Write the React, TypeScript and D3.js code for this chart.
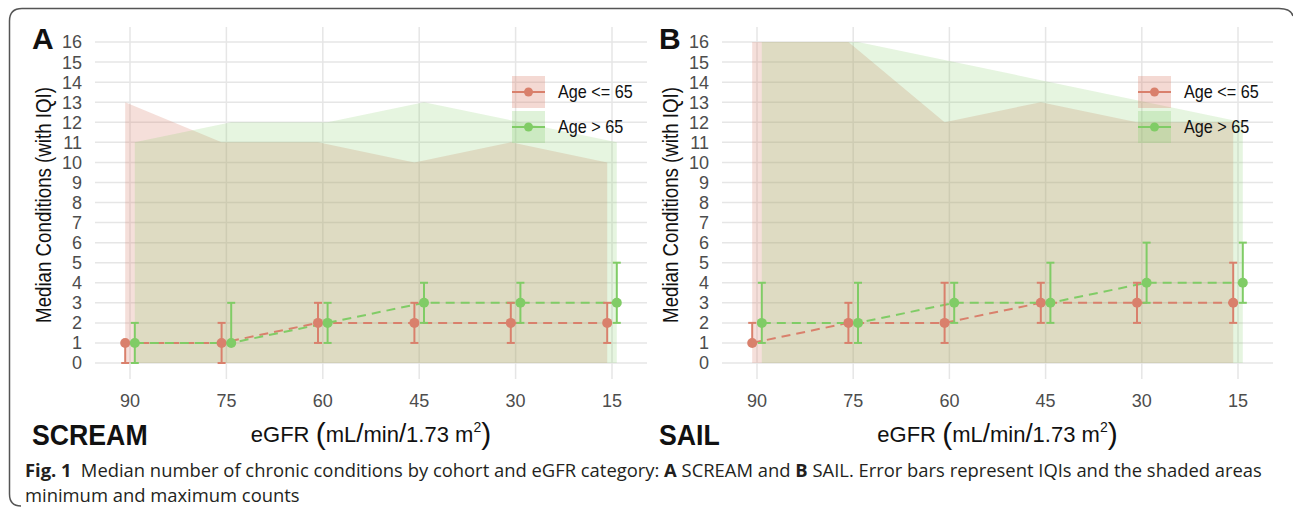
import React from "react";
import * as d3 from "d3";

// eGFR categories (x axis)
const egfr = [90, 75, 60, 45, 30, 15];
const yTicks = d3.range(0, 17);

// SCREAM cohort
const screamYoungMedian = [1, 1, 2, 2, 2, 2];
const screamYoungQ1 = [0, 0, 1, 1, 1, 1];
const screamYoungQ3 = [1, 2, 3, 3, 3, 3];
const screamYoungMin = [0, 0, 0, 0, 0, 0];
const screamYoungMax = [13, 11, 11, 10, 11, 10];

const screamOldMedian = [1, 1, 2, 3, 3, 3];
const screamOldQ1 = [0, 1, 1, 2, 2, 2];
const screamOldQ3 = [2, 3, 3, 4, 4, 5];
const screamOldMin = [0, 0, 0, 0, 0, 0];
const screamOldMax = [11, 12, 12, 13, 12, 11];

// SAIL cohort
const sailYoungMedian = [1, 2, 2, 3, 3, 3];
const sailYoungQ1 = [1, 1, 1, 2, 2, 2];
const sailYoungQ3 = [2, 3, 4, 4, 4, 5];
const sailYoungMin = [0, 0, 0, 0, 0, 0];
const sailYoungMax = [16, 16, 12, 13, 12, 12];

const sailOldMedian = [2, 2, 3, 3, 4, 4];
const sailOldQ1 = [1, 1, 2, 2, 3, 3];
const sailOldQ3 = [4, 4, 4, 5, 6, 6];
const sailOldMin = [0, 0, 0, 0, 0, 0];
const sailOldMax = [16, 16, 15, 14, 13, 12];

const groups = ["Age <= 65", "Age > 65"];
const colors = ["#d9806c", "#80cc66"];
const fillAlpha = [0.25, 0.2];

const chartFont = "'Liberation Sans', Arial, sans-serif";
const captionFont = "'Open Sans', sans-serif";

type Series = { median: number[]; q1: number[]; q3: number[]; min: number[]; max: number[] };

const build = (median, q1, q3, min, max): Series => ({ median, q1, q3, min, max });

const panels = [
  {
    letter: "A",
    cohort: "SCREAM",
    left: 95,
    right: 647,
    x0: 130,
    x1: 612,
    series: [
      build(screamYoungMedian, screamYoungQ1, screamYoungQ3, screamYoungMin, screamYoungMax),
      build(screamOldMedian, screamOldQ1, screamOldQ3, screamOldMin, screamOldMax),
    ],
  },
  {
    letter: "B",
    cohort: "SAIL",
    left: 722,
    right: 1273,
    x0: 757,
    x1: 1238,
    series: [
      build(sailYoungMedian, sailYoungQ1, sailYoungQ3, sailYoungMin, sailYoungMax),
      build(sailOldMedian, sailOldQ1, sailOldQ3, sailOldMin, sailOldMax),
    ],
  },
];

const top = 27;
const bottom = 379;
const y = d3.scaleLinear().domain([0, 16]).range([363, 42]);
const dodgePx = [-4.8, 4.8]; // red left, green right

const Panel = ({ p }) => {
  const x = d3.scaleLinear().domain([90, 15]).range([p.x0, p.x1]);
  const mid = (p.left + p.right) / 2;

  return (
    <g>
      {/* grid */}
      {yTicks.map((t) => (
        <line key={"h" + t} x1={p.left} x2={p.right} y1={y(t)} y2={y(t)} stroke="#e6e6e6" strokeWidth={1.5} />
      ))}
      {egfr.map((e) => (
        <line key={"v" + e} x1={x(e)} x2={x(e)} y1={top} y2={bottom} stroke="#e6e6e6" strokeWidth={1.5} />
      ))}

      {/* min-max shaded areas */}
      {p.series.map((s, gi) => {
        const area = d3
          .area<number>()
          .x((e) => x(e) + dodgePx[gi])
          .y0((e, i) => y(s.min[i]))
          .y1((e, i) => y(s.max[i]));
        return <path key={"a" + gi} d={area(egfr)} fill={colors[gi]} fillOpacity={fillAlpha[gi]} />;
      })}

      {/* dashed median lines */}
      {p.series.map((s, gi) => {
        const line = d3
          .line<number>()
          .x((e) => x(e) + dodgePx[gi])
          .y((e, i) => y(s.median[i]));
        return (
          <path key={"l" + gi} d={line(egfr)} fill="none" stroke={colors[gi]} strokeWidth={2} strokeDasharray="9,6" />
        );
      })}

      {/* error bars + points */}
      {p.series.map((s, gi) => (
        <g key={"e" + gi} stroke={colors[gi]} strokeWidth={2}>
          {egfr.map((e, i) => {
            const cx = x(e) + dodgePx[gi];
            return (
              <g key={e}>
                <line x1={cx} x2={cx} y1={y(s.q1[i])} y2={y(s.q3[i])} />
                <line x1={cx - 4} x2={cx + 4} y1={y(s.q1[i])} y2={y(s.q1[i])} />
                <line x1={cx - 4} x2={cx + 4} y1={y(s.q3[i])} y2={y(s.q3[i])} />
                <circle cx={cx} cy={y(s.median[i])} r={5} fill={colors[gi]} stroke="none" />
              </g>
            );
          })}
        </g>
      ))}

      {/* y ticks */}
      {yTicks.map((t) => (
        <text key={"yt" + t} x={p.left - 13} y={y(t)} dy="0.36em" textAnchor="end" fontSize={18} fill="#4d4d4d" fontFamily={chartFont}>
          {t}
        </text>
      ))}
      {/* x ticks */}
      {egfr.map((e) => (
        <text key={"xt" + e} x={x(e)} y={407} textAnchor="middle" fontSize={18} fill="#4d4d4d" fontFamily={chartFont}>
          {e}
        </text>
      ))}

      {/* axis titles */}
      <text
        transform={`translate(${p.left - 44},${(top + bottom) / 2 + 2}) rotate(-90) scale(0.85,1)`}
        textAnchor="middle"
        fontSize={22}
        fill="#111"
        fontFamily={chartFont}
      >
        Median Conditions (with IQI)
      </text>
      <text x={mid} y={442} textAnchor="middle" fontSize={22} fill="#111" fontFamily={chartFont}>
        eGFR <tspan fontSize={30} dy={2}>(</tspan>
        <tspan dy={-2}>mL</tspan>
        <tspan fontSize={26}>/</tspan>min<tspan fontSize={26}>/</tspan>1.73 m
        <tspan fontSize={14} dy={-10}>2</tspan>
        <tspan fontSize={30} dy={12}>)</tspan>
      </text>

      {/* panel tag and cohort */}
      <text x={p.left - 63} y={49} fontSize={30} fontWeight="bold" fill="#111" fontFamily={chartFont}>
        {p.letter}
      </text>
      <text
        transform={`translate(${p.left - 63},445) scale(0.89,1)`}
        fontSize={30}
        fontWeight="bold"
        fill="#111"
        fontFamily={chartFont}
      >
        {p.cohort}
      </text>

      {/* legend */}
      {groups.map((g, gi) => {
        const lx = p.right - 135;
        const ly = 76 + gi * 35;
        return (
          <g key={"lg" + gi}>
            <rect x={lx} y={ly} width={33} height={32} fill={colors[gi]} fillOpacity={fillAlpha[gi] + 0.05} />
            <line x1={lx} x2={lx + 33} y1={ly + 16} y2={ly + 16} stroke={colors[gi]} strokeWidth={2} />
            <circle cx={lx + 16.5} cy={ly + 16} r={4.5} fill={colors[gi]} />
            <text
              transform={`translate(${lx + 46},${ly + 16}) scale(0.9,1)`}
              dy="0.36em"
              fontSize={18}
              fill="#111"
              fontFamily={chartFont}
            >
              {g}
            </text>
          </g>
        );
      })}
    </g>
  );
};

export default function App() {
  return (
    <svg
      width={1293}
      height={515}
      style={{ position: "absolute", left: 0, top: 0, background: "#fff" }}
    >
      <rect width={1293} height={515} fill="#fff" />
      <path
        d="M 21,506 Q 9.5,506 9.5,494 L 9.5,21 Q 9.5,8.5 22,8.5 L 1279,8.5 Q 1291,8.5 1293,16"
        fill="none"
        stroke="#555"
        strokeWidth={1.5}
      />
      {panels.map((p) => (
        <Panel key={p.letter} p={p} />
      ))}
      <text x={25} y={477} fontSize={18.4} fill="#231f20" fontFamily={captionFont}>
        <tspan fontWeight="bold">Fig. 1</tspan>
        {"\u2002Median number of chronic conditions by cohort and eGFR category: "}
        <tspan fontWeight="bold">A</tspan>
        {" SCREAM and "}
        <tspan fontWeight="bold">B</tspan>
        {" SAIL. Error bars represent IQIs and the shaded areas"}
      </text>
      <text x={25} y={502} fontSize={18.4} fill="#231f20" fontFamily={captionFont}>
        minimum and maximum counts
      </text>
    </svg>
  );
}
